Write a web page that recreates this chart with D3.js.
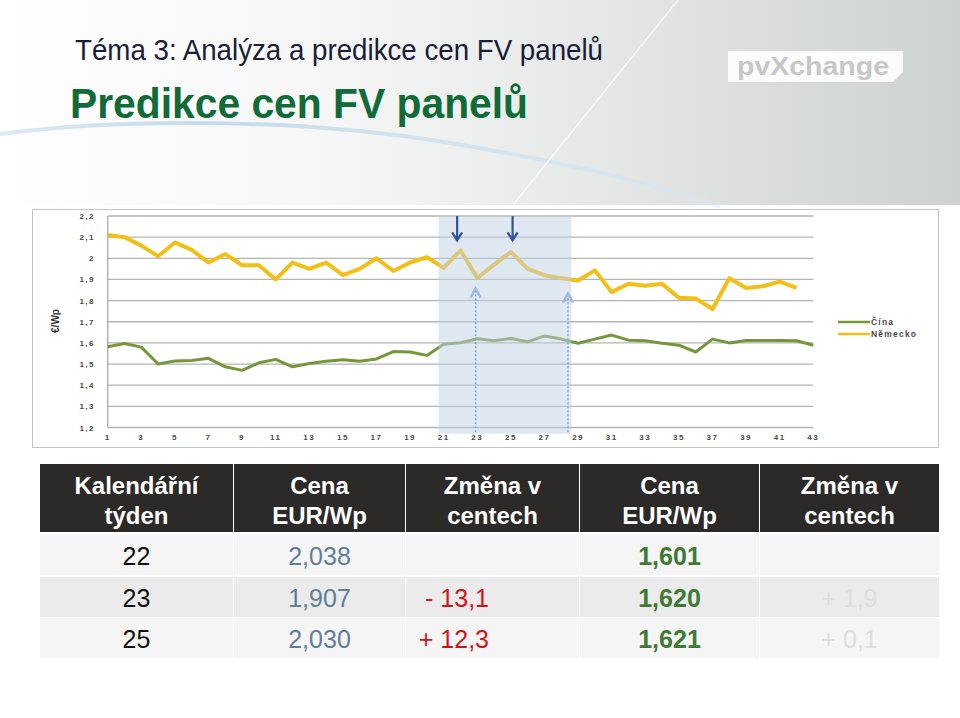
<!DOCTYPE html>
<html>
<head>
<meta charset="utf-8">
<script src="https://cdnjs.cloudflare.com/ajax/libs/d3/7.8.5/d3.min.js"></script>
<style>
  body { margin: 0; background: #fff; }
  svg { display: block; font-family: "Liberation Sans", Arial, sans-serif; }
</style>
</head>
<body>
<div class="canvas"></div>
<script>
// weekly module prices (EUR/Wp)
const weeks = [1,2,3,4,5,6,7,8,9,10,11,12,13,14,15,16,17,18,19,20,21,22,23,24,25,26,27,28,29,30,31,32,33,34,35,36,37,38,39,40,41,42,43];
const germany = [2.11,2.10,2.06,2.01,2.075,2.04,1.98,2.02,1.967,1.967,1.90,1.98,1.95,1.98,1.92,1.95,2.00,1.94,1.98,2.005,1.955,2.038,1.907,1.97,2.030,1.95,1.92,1.906,1.895,1.943,1.84,1.88,1.87,1.88,1.813,1.81,1.76,1.906,1.86,1.868,1.89,1.86];
const china = [1.582,1.597,1.58,1.50,1.514,1.517,1.527,1.487,1.47,1.506,1.522,1.487,1.503,1.513,1.52,1.513,1.524,1.559,1.557,1.541,1.594,1.601,1.620,1.61,1.621,1.605,1.633,1.618,1.598,1.618,1.637,1.613,1.61,1.598,1.589,1.557,1.618,1.60,1.611,1.611,1.611,1.61,1.589];
const yTicks = [1.2,1.3,1.4,1.5,1.6,1.7,1.8,1.9,2.0,2.1,2.2];
const xTicks = [1,3,5,7,9,11,13,15,17,19,21,23,25,27,29,31,33,35,37,39,41,43];
const seriesNames = ['Čína', 'Německo'];

// annotations (week, value)
const shadeWeeks = [20.7, 28.6];
const downArrows = [21.8, 25.1];
const upArrows = [[22.9, 1.857], [28.4, 1.833]];

// table
const tableHeaders = [['Kalendářní', 'týden'], ['Cena', 'EUR/Wp'], ['Změna v', 'centech'], ['Cena', 'EUR/Wp'], ['Změna v', 'centech']];
const tableWeeks = ['22', '23', '25'];
const priceDE = ['2,038', '1,907', '2,030'];
const changeDE = ['', '- 13,1', '+ 12,3'];
const priceCN = ['1,601', '1,620', '1,621'];
const changeCN = ['', '+ 1,9', '+ 0,1'];

const svg = d3.select('.canvas')
    .append('svg')
        .attr('width', 960)
        .attr('height', 718);

const defs = svg.append('defs');
const bg = defs.append('linearGradient').attr('id', 'bg');
bg.append('stop').attr('offset', '0%').attr('stop-color', '#ffffff');
bg.append('stop').attr('offset', '35%').attr('stop-color', '#f6f6f6');
bg.append('stop').attr('offset', '65%').attr('stop-color', '#e4e6e6');
bg.append('stop').attr('offset', '100%').attr('stop-color', '#ced1d1');

const sw = defs.append('linearGradient').attr('id', 'swoosh');
sw.append('stop').attr('offset', '0%').attr('stop-color', '#bcd6e8').attr('stop-opacity', 0.5);
sw.append('stop').attr('offset', '30%').attr('stop-color', '#c4dcec').attr('stop-opacity', 1);
sw.append('stop').attr('offset', '100%').attr('stop-color', '#d6e6f0').attr('stop-opacity', 0.6);

// header background
svg.append('rect')
    .attr('x', 0).attr('y', 0)
    .attr('width', 960).attr('height', 205)
    .attr('fill', 'url(#bg)');

svg.append('path')
    .attr('d', 'M0,134 C120,118 300,118 450,143 S660,188 720,206')
    .attr('fill', 'none')
    .attr('stroke', 'url(#swoosh)')
    .attr('stroke-width', 4);

svg.append('line')
    .attr('x1', 678).attr('y1', 0)
    .attr('x2', 513).attr('y2', 205)
    .attr('stroke', '#ffffff')
    .attr('stroke-opacity', 0.7)
    .attr('stroke-width', 1.5);

svg.append('text')
    .attr('x', 75).attr('y', 60)
    .attr('fill', '#181d38')
    .attr('font-size', 30)
    .attr('textLength', 528)
    .attr('lengthAdjust', 'spacingAndGlyphs')
    .text('Téma 3: Analýza a predikce cen FV panelů');

svg.append('text')
    .attr('x', 70).attr('y', 118)
    .attr('fill', '#116b38')
    .attr('font-size', 43)
    .attr('font-weight', 'bold')
    .attr('textLength', 458)
    .attr('lengthAdjust', 'spacingAndGlyphs')
    .text('Predikce cen FV panelů');

// logo
svg.append('path')
    .attr('d', 'M728,51 L903,51 L903,72 L893,82 L728,82 Z')
    .attr('fill', '#ffffff')
    .attr('fill-opacity', 0.9);

svg.append('text')
    .attr('x', 737).attr('y', 75)
    .attr('fill', '#c6c8c8')
    .attr('font-size', 25)
    .attr('font-weight', 'bold')
    .attr('textLength', 152)
    .attr('lengthAdjust', 'spacingAndGlyphs')
    .text('pvXchange');

// chart frame
svg.append('rect')
    .attr('x', 32.5).attr('y', 209.5)
    .attr('width', 906).attr('height', 238)
    .attr('fill', '#fff')
    .attr('stroke', '#c4c4c4');

const x = d3.scaleLinear().domain([1, 43]).range([107.7, 813.3]);
const y = d3.scaleLinear().domain([1.2, 2.2]).range([427.5, 216]);

const graph = svg.append('g');

graph.selectAll('line.grid')
    .data(yTicks)
    .enter()
    .append('line')
    .attr('class', 'grid')
    .attr('x1', x(1)).attr('x2', x(43))
    .attr('y1', d => y(d)).attr('y2', d => y(d))
    .attr('stroke', '#b4b4b4')
    .attr('stroke-width', 1.3);

graph.append('line')
    .attr('x1', x(1)).attr('x2', x(1))
    .attr('y1', y(2.2)).attr('y2', y(1.2))
    .attr('stroke', '#a8a8a8')
    .attr('stroke-width', 1.3);

graph.selectAll('text.ylab')
    .data(yTicks)
    .enter()
    .append('text')
    .attr('class', 'ylab')
    .attr('x', 95)
    .attr('y', d => y(d) + 3)
    .attr('text-anchor', 'end')
    .attr('font-size', 8)
    .attr('font-weight', 'bold')
    .attr('letter-spacing', 1.5)
    .attr('fill', '#4a4a4a')
    .text(d => d3.format('.1~f')(d).replace('.', ','));

graph.selectAll('text.xlab')
    .data(xTicks)
    .enter()
    .append('text')
    .attr('class', 'xlab')
    .attr('x', d => x(d))
    .attr('y', 440)
    .attr('text-anchor', 'middle')
    .attr('font-size', 8)
    .attr('font-weight', 'bold')
    .attr('letter-spacing', 1.5)
    .attr('fill', '#4a4a4a')
    .text(d => d);

graph.append('text')
    .attr('transform', 'translate(59, 321) rotate(-90)')
    .attr('text-anchor', 'middle')
    .attr('font-size', 10)
    .attr('font-weight', 'bold')
    .attr('fill', '#333')
    .text('€/Wp');

const line = d3.line()
    .x((d, i) => x(weeks[i]))
    .y(d => y(d));

graph.append('path')
    .datum(china)
    .attr('fill', 'none')
    .attr('stroke', '#76963c')
    .attr('stroke-width', 3)
    .attr('stroke-linejoin', 'round')
    .attr('d', line);

graph.append('path')
    .datum(germany)
    .attr('fill', 'none')
    .attr('stroke', '#f2bf17')
    .attr('stroke-width', 4)
    .attr('stroke-linejoin', 'round')
    .attr('d', line);

// highlighted weeks
graph.append('rect')
    .attr('x', x(shadeWeeks[0]))
    .attr('y', y(2.2) + 1)
    .attr('width', x(shadeWeeks[1]) - x(shadeWeeks[0]))
    .attr('height', y(1.175) - y(2.2))
    .attr('fill', '#bfd2e4')
    .attr('fill-opacity', 0.5);

graph.selectAll('g.down')
    .data(downArrows)
    .enter()
    .append('path')
    .attr('d', d => `M${x(d)},${y(2.2)} L${x(d)},${y(2.085)} M${x(d) - 5},${y(2.085) - 8} L${x(d)},${y(2.085)} L${x(d) + 5},${y(2.085) - 8}`)
    .attr('fill', 'none')
    .attr('stroke', '#2f5597')
    .attr('stroke-width', 2.2);

graph.selectAll('line.up')
    .data(upArrows)
    .enter()
    .append('line')
    .attr('x1', d => x(d[0])).attr('x2', d => x(d[0]))
    .attr('y1', y(1.177)).attr('y2', d => y(d[1]))
    .attr('stroke', '#7ea7d8')
    .attr('stroke-width', 1.5)
    .attr('stroke-dasharray', '2,2');

graph.selectAll('path.uphead')
    .data(upArrows)
    .enter()
    .append('path')
    .attr('d', d => `M${x(d[0]) - 5},${y(d[1]) + 9} L${x(d[0])},${y(d[1])} L${x(d[0]) + 5},${y(d[1]) + 9}`)
    .attr('fill', 'none')
    .attr('stroke', '#9bbbe0')
    .attr('stroke-width', 2.5);

// legend
const legend = graph.selectAll('g.legend')
    .data(seriesNames)
    .enter()
    .append('g')
    .attr('transform', (d, i) => `translate(838, ${322 + i * 12})`);

legend.append('line')
    .attr('x1', 0).attr('x2', 32)
    .attr('stroke', (d, i) => i ? '#f2bf17' : '#76963c')
    .attr('stroke-width', 2.5);

legend.append('text')
    .attr('x', 33).attr('y', 3)
    .attr('font-size', 8.5)
    .attr('font-weight', 'bold')
    .attr('letter-spacing', 1.2)
    .attr('fill', '#4a4a4a')
    .text(d => d);

// table
const colX = [40, 234, 406, 580, 760];
const colW = [193, 171, 173, 179, 179];
const rowY = [535, 577, 618];
const rowH = 40;

const table = svg.append('g');

tableHeaders.forEach((h, i) => {
    table.append('rect')
        .attr('x', colX[i]).attr('y', 464)
        .attr('width', colW[i]).attr('height', 68)
        .attr('fill', '#2b2a28');
    h.forEach((t, j) => {
        table.append('text')
            .attr('x', colX[i] + colW[i] / 2)
            .attr('y', 494 + j * 30)
            .attr('text-anchor', 'middle')
            .attr('font-size', 24)
            .attr('font-weight', 'bold')
            .attr('fill', '#fff')
            .text(t);
    });
});

const columns = [
    {vals: tableWeeks, color: '#111', weight: 'normal'},
    {vals: priceDE, color: '#5f7f98', weight: 'normal'},
    {vals: changeDE, color: '#d3121c', weight: 'normal', anchor: 'end', ax: 489},
    {vals: priceCN, color: '#3f7a35', weight: 'bold'},
    {vals: changeCN, color: '#dedede', weight: 'normal'}
];

rowY.forEach((ry, r) => {
    columns.forEach((c, i) => {
        table.append('rect')
            .attr('x', colX[i]).attr('y', ry)
            .attr('width', colW[i]).attr('height', rowH)
            .attr('fill', r === 1 ? '#ebebeb' : '#f5f5f5');
        table.append('text')
            .attr('x', c.ax || colX[i] + colW[i] / 2)
            .attr('y', ry + 30)
            .attr('text-anchor', c.anchor || 'middle')
            .attr('font-size', 25)
            .attr('font-weight', c.weight)
            .attr('fill', c.color)
            .text(c.vals[r]);
    });
});
</script>
</body>
</html>
